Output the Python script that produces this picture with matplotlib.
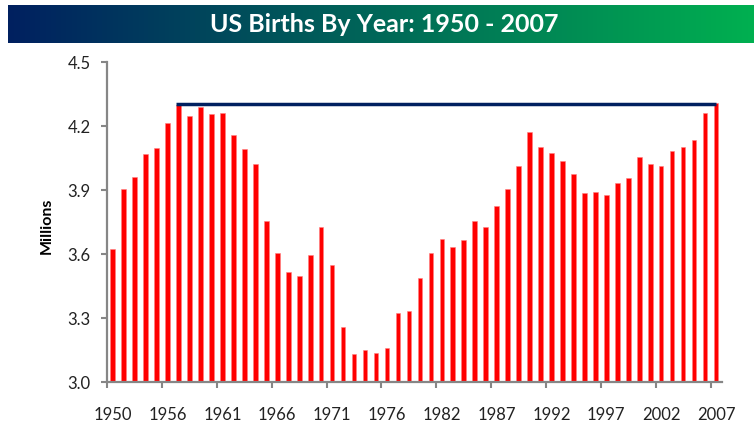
import matplotlib
matplotlib.use("Agg")
import matplotlib.pyplot as plt
import numpy as np
from matplotlib.colors import LinearSegmentedColormap
from matplotlib.ticker import FixedLocator, FormatStrFormatter

# ---- data ----
years = [1950] + list(range(1952, 1981)) + list(range(1982, 2008))
births = [3.626, 3.908, 3.961, 4.070, 4.099, 4.214, 4.299, 4.249, 4.290, 4.257,
          4.264, 4.160, 4.092, 4.023, 3.754, 3.606, 3.516, 3.496, 3.599, 3.729,
          3.549, 3.257, 3.133, 3.153, 3.139, 3.160, 3.324, 3.332, 3.488, 3.606,
          3.673, 3.632, 3.667, 3.756, 3.728, 3.825, 3.908, 4.016, 4.175, 4.105,
          4.077, 4.036, 3.975, 3.886, 3.892, 3.879, 3.934, 3.956, 4.058, 4.022,
          4.016, 4.086, 4.105, 4.135, 4.264, 4.311]
peak_level = 4.305
peak_start_year = 1957
peak_end_year = 2007
title = "US Births By Year: 1950 - 2007"
ylabel = "Millions"
label_step = 5

W, H = 756, 429
fig = plt.figure(figsize=(W / 100, H / 100), dpi=100)
plt.rcParams['font.family'] = ['Lato', 'DejaVu Sans']

# ---- banner ----
bx0, bx1, by0, by1 = 8, 754, 5, 43
bax = fig.add_axes([bx0 / W, 1 - by1 / H, (bx1 - bx0) / W, (by1 - by0) / H])
cmap = LinearSegmentedColormap.from_list("banner", ["#002060", "#00B050"])
bax.imshow(np.linspace(0, 1, 256)[None, :], aspect="auto", cmap=cmap,
           extent=[0, 1, 0, 1])
bax.set_axis_off()
bax.text(0.5 + (381 - 378) / (bx1 - bx0), 0.5, title, color="white",
         fontsize=18, fontweight="bold", ha="center", va="center",
         family=['Lato', 'DejaVu Sans'])

# ---- main axes ----
left, right, top, bottom = 107.3, 721.5, 62.3, 382.3
ax = fig.add_axes([left / W, 1 - bottom / H, (right - left) / W, (bottom - top) / H])
x = np.arange(len(births))
ax.bar(x, births, width=0.42, color="#FF0000", edgecolor="#FF8080",
       linewidth=0.4, bottom=0, zorder=2)
i0 = years.index(peak_start_year)
i1 = years.index(peak_end_year)
ax.hlines(peak_level, i0 - 0.2, i1, color="#002060", linewidth=2.5, zorder=3)

ax.set_xlim(-0.5, len(births) - 0.5)
ax.set_ylim(3.0, 4.5)
ax.set_yticks(np.arange(3.0, 4.51, 0.3))
ax.yaxis.set_major_formatter(FormatStrFormatter("%.1f"))

major = list(range(0, len(births), label_step))
ax.xaxis.set_major_locator(FixedLocator(major))
ax.set_xticklabels([str(years[i]) for i in major])
ax.xaxis.set_minor_locator(FixedLocator([m - 0.5 for m in major]))

grey = "#868686"
for s in ["top", "right"]:
    ax.spines[s].set_visible(False)
for s in ["left", "bottom"]:
    ax.spines[s].set_color(grey)
    ax.spines[s].set_linewidth(1.6)
ax.tick_params(axis="y", direction="out", length=4, width=1.5, color=grey,
               pad=8, labelsize=12, labelcolor="#222222")
ax.tick_params(axis="x", which="major", length=0, pad=18, labelsize=12,
               labelcolor="#222222")
ax.tick_params(axis="x", which="minor", direction="out", length=4, width=1.5,
               color=grey)

fig.text(46.5 / W, 1 - 226 / H, ylabel, rotation=90, fontsize=11.5,
         fontweight="bold", ha="center", va="center")

fig.savefig("out.png", dpi=100)
